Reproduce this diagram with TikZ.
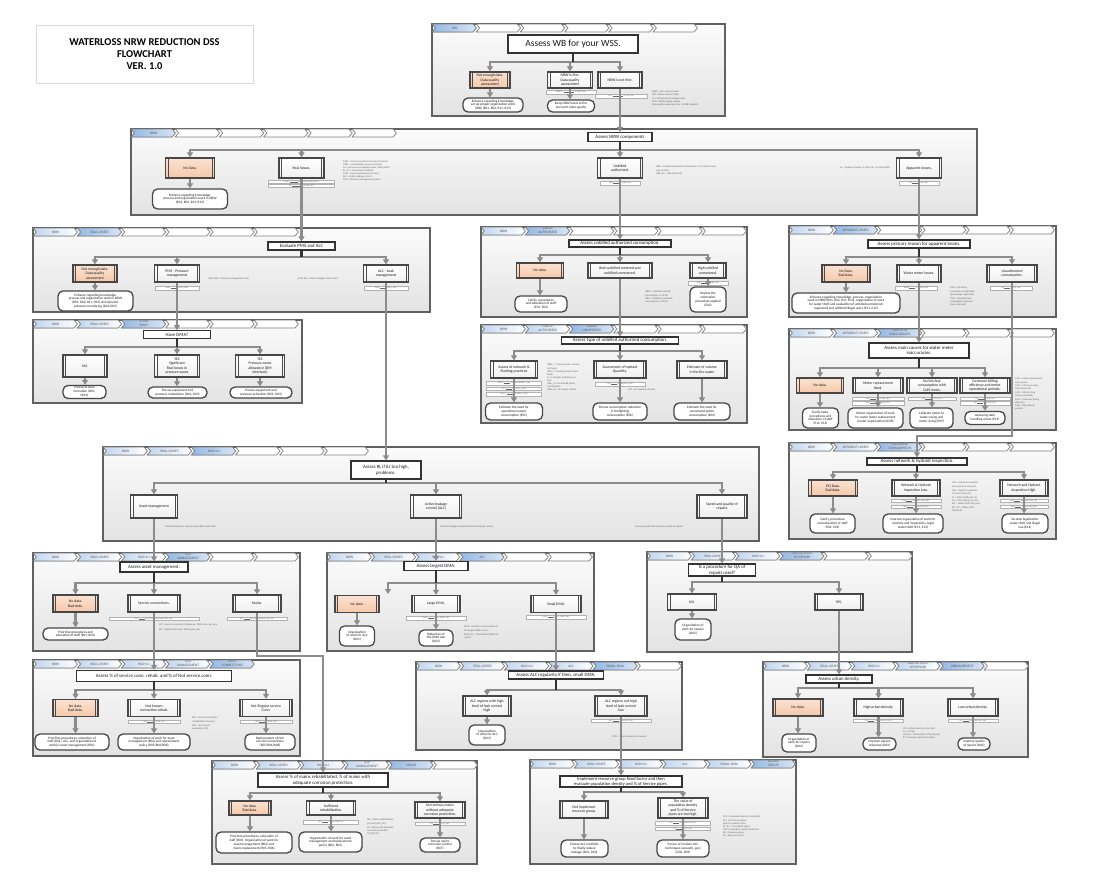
\documentclass[tikz,border=0pt]{standalone}
\usepackage{fontspec}
\setmainfont{Carlito}
\usetikzlibrary{arrows.meta}
\definecolor{crumbblue}{HTML}{8EB4E3}
\definecolor{peach}{HTML}{F4BE9A}
\definecolor{linegray}{HTML}{8C8C8C}
\newcommand{\fsz}[2]{\fontsize{#1}{#2}\selectfont}
\newcommand{\crumb}[5]{%
  \filldraw[#3] (#1,#2) -- ++(41,0) -- ++(3.4,4) -- ++(-3.4,4) -- ++(-41,0) -- ++(3.4,-4) -- cycle;
  \node[crumbtext] (#5) at (#1+22.5,#2+4) {#4};}
\newcommand{\crumbrow}[4]{\foreach \k/\lab/\st in {#4} {\crumb{#2+44.2*\k}{#3}{\st}{\lab}{#1\k}}}
\tikzset{
  panel/.style={draw=black!62, line width=1.3pt, top color=gray!3, bottom color=gray!22},
  crumboff/.style={draw=black!50, line width=0.7pt, fill=white},
  crumbon/.style={draw=black!50, line width=0.7pt, left color=crumbblue!55, right color=white},
  crumbcur/.style={draw=black!50, line width=0.7pt, left color=crumbblue!95, right color=crumbblue!35},
  crumbtext/.style={font=\fsz{3.5}{3.8}, text=black!65, align=center, inner sep=0pt},
  bars/.style={path picture={\draw[black!70, line width=0.8pt]
      ([xshift=2.6pt]path picture bounding box.north west) -- ([xshift=2.6pt]path picture bounding box.south west)
      ([xshift=-2.6pt]path picture bounding box.north east) -- ([xshift=-2.6pt]path picture bounding box.south east);}},
  proc/.style 2 args={bars, draw=black!72, line width=1.3pt, top color=white, bottom color=gray!12, align=center,
      font=\fsz{3.8}{4.4}, text=black!90, inner sep=0.5pt, minimum width=#1, minimum height=#2},
  nodata/.style={top color=peach!45, bottom color=peach!85},
  term/.style 2 args={draw=black!72, line width=1.3pt, fill=white, rounded corners=5pt, align=center,
      font=\fsz{3.4}{3.9}, text=black!90, inner sep=0.5pt, minimum width=#1, minimum height=#2},
  head/.style 2 args={draw=black!80, line width=1.2pt, fill=white, align=center, font=\fsz{4.8}{5.5},
      text=black!90, inner sep=0.5pt, minimum width=#1, minimum height=#2},
  field/.style={draw=black!30, line width=0.3pt, fill=white, font=\fsz{2.2}{2.5}, text=black!60,
      inner sep=0.5pt, minimum width=#1, minimum height=3.6},
  note/.style={anchor=north west, align=left, font=\fsz{2.5}{3.1}, text=black!62, inner sep=0pt},
  flow/.style={draw=linegray, line width=2.2pt, -{Triangle[length=5pt,width=6pt]}},
  trunk/.style={draw=black!80, line width=2.2pt},
}
\begin{document}
\begin{tikzpicture}[x=1pt,y=-1pt]
\fill[white] (0,0) rectangle (1099,886);
\useasboundingbox (0,0) rectangle (1099,886);

\node[draw=black!15, line width=0.6pt, fill=white, minimum width=217, minimum height=58, align=center,
  font=\bfseries\fsz{10.5}{12}] (title) at (144.5,54) {WATERLOSS NRW REDUCTION DSS\\FLOWCHART\\VER. 1.0};

\foreach \xa/\ya/\xb/\yb in {432/24/725/116, 131/129/977/215, 33/228/430/312, 33/320/302/403,
  481/227/747/317, 481/325/747/423, 789/226/1056/317, 789/329/1056/430, 789/443/1056/539,
  103/447/759/541, 33/553/300/651, 327/553/594/651, 647/552/912/652, 33/660/300/756,
  416/662/682/750, 763/662/1028/757, 212/761/477/864, 530/760/796/864}
  \draw[panel] (\xa,\ya) rectangle (\xb,\yb);

\crumbrow{cWB}{432}{24}{0/WB/crumbcur,1/{}/crumboff,2/{}/crumboff,3/{}/crumboff,4/{}/crumboff,5/{}/crumboff}
\crumbrow{cNRW}{131}{129}{0/NRW/crumbcur,1/{}/crumboff,2/{}/crumboff,3/{}/crumboff,4/{}/crumboff,5/{}/crumboff}
\crumbrow{cRLa}{33}{228}{0/NRW/crumbon,1/{REAL LOSSES}/crumbcur,2/{}/crumboff,3/{}/crumboff,4/{}/crumboff,5/{}/crumboff}
\crumbrow{cRLb}{33}{320}{0/NRW/crumbon,1/{REAL LOSSES}/crumbon,2/{\fsz{2.5}{2.8}IS THERE\\DMA?}/crumbcur,3/{}/crumboff,4/{}/crumboff,5/{}/crumboff}
\crumbrow{cUBa}{481}{227}{0/NRW/crumbon,1/{\fsz{2.5}{2.8}UNBILLED\\AUTHORIZED}/crumbcur,2/{}/crumboff,3/{}/crumboff,4/{}/crumboff,5/{}/crumboff}
\crumbrow{cUBb}{481}{325}{0/NRW/crumbon,1/{\fsz{2.5}{2.8}UNBILLED\\AUTHORIZED}/crumbon,2/{\fsz{2.5}{2.8}UNBILLED\\UNMETERED}/crumbcur,3/{}/crumboff,4/{}/crumboff,5/{}/crumboff}
\crumbrow{cALa}{789}{226}{0/NRW/crumbon,1/{APPARENT LOSSES}/crumbcur,2/{}/crumboff,3/{}/crumboff,4/{}/crumboff,5/{}/crumboff}
\crumbrow{cALb}{789}{329}{0/NRW/crumbon,1/{APPARENT LOSSES}/crumbon,2/{\fsz{2.5}{2.8}WATER METER\\INACCURACIES}/crumbcur,3/{}/crumboff,4/{}/crumboff,5/{}/crumboff}
\crumbrow{cALc}{789}{443}{0/NRW/crumbon,1/{APPARENT LOSSES}/crumbon,2/{\fsz{2.5}{2.8}UNAUTHORIZED\\CONSUMPTION}/crumbcur,3/{}/crumboff,4/{}/crumboff,5/{}/crumboff}
\crumbrow{cHI}{103}{447}{0/NRW/crumbon,1/{REAL LOSSES}/crumbon,2/{HIGH ILI}/crumbcur,3/{}/crumboff,4/{}/crumboff,5/{}/crumboff}
\crumbrow{cAMa}{33}{553}{0/NRW/crumbon,1/{REAL LOSSES}/crumbon,2/{HIGH ILI}/crumbon,3/{\fsz{2.5}{2.8}ASSET\\MANAGEMENT}/crumbcur,4/{}/crumboff,5/{}/crumboff}
\crumbrow{cALC}{327}{553}{0/NRW/crumbon,1/{REAL LOSSES}/crumbon,2/{HIGH ILI}/crumbon,3/ALC/crumbcur,4/{}/crumboff,5/{}/crumboff}
\crumbrow{cREP}{647}{552}{0/NRW/crumbon,1/{REAL LOSSES}/crumbon,2/{HIGH ILI}/crumbon,3/{\fsz{2.5}{2.8}SPEED AND QUALITY\\OF REPAIRS}/crumbcur,4/{}/crumboff,5/{}/crumboff}
\crumbrow{cAMb}{33}{660}{0/NRW/crumbon,1/{REAL LOSSES}/crumbon,2/{HIGH ILI}/crumbon,3/{\fsz{2.5}{2.8}ASSET\\MANAGEMENT}/crumbon,4/{\fsz{2.5}{2.8}SERVICE\\CONNECTIONS}/crumbcur}
\crumbrow{cSD}{416}{662}{0/NRW/crumbon,1/{REAL LOSSES}/crumbon,2/{HIGH ILI}/crumbon,3/ALC/crumbon,4/{SMALL DMA}/crumbcur,5/{}/crumboff}
\crumbrow{cUR}{763}{662}{0/NRW/crumbon,1/{REAL LOSSES}/crumbon,2/{HIGH ILI}/crumbon,3/{\fsz{2.5}{2.8}SPEED AND QUALITY\\OF REPAIRS}/crumbon,4/{URBAN DENSITY}/crumbcur,5/{}/crumboff}
\crumbrow{cMA}{212}{761}{0/NRW/crumbon,1/{REAL LOSSES}/crumbon,2/{HIGH ILI}/crumbon,3/{\fsz{2.5}{2.8}ASSET\\MANAGEMENT}/crumbon,4/MAINS/crumbcur,5/{}/crumboff}
\crumbrow{cIM}{530}{760}{0/NRW/crumbon,1/{REAL LOSSES}/crumbon,2/{HIGH ILI}/crumbon,3/ALC/crumbon,4/{SMALL DMA}/crumbon,5/{\fsz{2.5}{2.8}RESOURCE\\GROUP}/crumbcur}

% water balance
\node[head={130}{18}, font=\fsz{9.5}{11}] (hWB) at (573,44) {Assess WB for your WSS.};
\node[proc={40}{16}, nodata] (wb1) at (490,80) {Not enough data.\\Data quality\\assessment};
\node[proc={45}{16}] (wb2) at (570,80) {NRW is fine.\\Data quality\\assessment};
\node[proc={44}{16}] (wb3) at (620,80) {NRW is not fine.};
\node[field=50] (fwb2) at (571,92) {NRW\% = \rule{10pt}{0.2pt}\,\% (NRW\_thr)};
\node[field=52] (fwb3) at (621,96) {ILI = \rule{10pt}{0.2pt}\, ILI > ILI\_thr};
\node[term={60}{14}] (twb1) at (493,105) {Enhance regarding knowledge,\\set up proper organization work\\(WB) (R01, R02, R11, R13)};
\node[term={47}{12}] (twb2) at (571,106) {Keep NRW levels at the\\low level, Data quality};
\node[note] (nwb) at (652,91) {NRW = Non-revenue water\\WB = Water balance (IWA)\\ILI = Infrastructure leakage index\\WSS = Water supply system\\Data quality assessment acc. to WB standard};

% NRW components
\node[head={64}{9}] (hNRW) at (620,137) {Assess NRW components};
\node[proc={49}{20}, nodata] (nrw1) at (190,168) {No Data.};
\node[proc={45}{20}] (nrw2) at (301.5,168) {Real losses.};
\node[proc={45}{20}] (nrw3) at (620,168) {Unbilled\\authorized.};
\node[proc={45}{20}] (nrw4) at (919,168) {Apparent losses.};
\node[field=66] (fnrw2a) at (301.5,181.5) {CARL \rule{8pt}{0.2pt} (threshold m3/conn/d)};
\node[field=66] (fnrw2b) at (301.5,185.5) {ILI \rule{8pt}{0.2pt} ILI\_thr (RL\_thr)};
\node[field=40] (fnrw3) at (620,183) {UBA \rule{6pt}{0.2pt} \% (UBA\_thr)};
\node[field=40] (fnrw4) at (919,183) {AL \rule{6pt}{0.2pt} \% (AL\_thr)};
\node[term={75}{20}] (tnrw1) at (190,199) {Enhance regarding knowledge,\\process and organization work in NRW\\(R01, R02, R11, R13)};
\node[note] (nnrw2) at (343,160) {CARL = Current annual real losses (m3/year)\\UARL = Unavoidable annual real losses\\ILI = Infrastructure leakage index (CARL/UARL)\\RL\_thr = Real losses threshold\\CoPL = Level of performance (class)\\ALC = Active leakage control\\PMS = Pressure management system};
\node[note] (nnrw3) at (656,166) {UBA = Unbilled authorized consumption, \% of system input\\volume (SIV)\\UBA\_thr = UBA threshold};
\node[note, anchor=north east] (nnrw4) at (890,166) {AL = Apparent losses, \% of SIV (AL\_thr threshold)};

% real losses
\node[head={67}{8}] (hRLa) at (301.5,246) {Evaluate PMS and ALC};
\node[proc={44}{17}, nodata] (rl1a) at (95,273.5) {Not enough data.\\Data quality\\assessment};
\node[proc={45}{17}] (rl1b) at (177,273.5) {PMS - Pressure\\management};
\node[proc={45}{17}] (rl1c) at (386,273.5) {ALC - Leak\\management};
\node[field=44] (frl1b) at (177,288) {CoPL \rule{6pt}{0.2pt} (CoPL\_PMS)};
\node[field=44] (frl1c) at (386,288) {CoPL \rule{6pt}{0.2pt} (CoPL\_ALC)};
\node[term={75}{20}] (trl1a) at (95.5,301) {Enhance regarding knowledge,\\process and organization work in NRW\\(R01, R02, R11, R13) and dynamic\\pressure monitoring (D01-D03)};
\node[note] (nrl1b) at (208,278) {CoPL PMS = Pressure management class};
\node[note] (nrl1c) at (298,278) {CoPL ALC = Active leakage control class};

\node[head={67}{7.5}] (hRLb) at (177,334.5) {Have DMA?};
\node[proc={44}{22}] (rl2a) at (85,366) {NO.};
\node[proc={45}{22}] (rl2b) at (177,366) {YES\\Significant\\Real losses in\\pressure zones};
\node[proc={49}{22}] (rl2c) at (260,366) {YES\\Pressure zones\\allowance (DM\\interface)};
\node[term={43}{13}] (trl2a) at (84.5,392) {Pursue to zone\\formation (D01,\\DM1)};
\node[term={59}{11}] (trl2b) at (177.5,392.5) {Pursue equipment and\\pressure modulation (D01, D03)};
\node[term={62}{11}] (trl2c) at (261,392.5) {Pursue equipment and\\pressure activation (D01, D03)};

% unbilled authorized
\node[head={102}{7}] (hUBa) at (620,243.5) {Assess unbilled authorized consumption.};
\node[proc={47}{15}, nodata] (ub1a) at (540,270.5) {No data.};
\node[proc={64}{15}] (ub1b) at (620,270.5) {Both unbilled metered and\\unbilled unmetered.};
\node[proc={36}{15}] (ub1c) at (708,270.5) {High unbilled\\unmetered.};
\node[field=40] (fub1c) at (708,283) {UBU \rule{6pt}{0.2pt} \% (UBU\_thr)};
\node[term={52}{16}] (tub1a) at (541,304) {Clarify, procedures\\and education of staff\\(E01, E03)};
\node[term={36}{25}] (tub1c) at (708,299.5) {Review the\\estimation\\procedure applied\\(E02)};
\node[note] (nub1) at (645,291) {UBM = Unbilled metered\\consumption, \% of SIV\\UBU = Unbilled unmetered\\consumption, \% of SIV};

\node[head={117}{7}] (hUBb) at (620,340.5) {Assess type of unbilled authorized consumption.};
\node[proc={47}{17}] (ub2a) at (514,369.5) {Assess of network \&\\flushing practices};
\node[proc={52}{17}] (ub2b) at (620,369.5) {Assessment of hydrant\\Quantity.};
\node[proc={50}{17}] (ub2c) at (702,369.5) {Estimate of volume\\in the fire water};
\node[field=55] (fub2a) at (514,383) {UBM\_f \rule{6pt}{0.2pt} m3/year (UBM\_f\_thr)};
\node[field=55] (fub2b) at (514,388.5) {N\_f \rule{6pt}{0.2pt} /year (N\_f\_thr)};
\node[field=55] (fub2c) at (514,394) {UBU\_f \rule{6pt}{0.2pt} m3 (UBU\_f\_thr)};
\node[field=50] (fub2d) at (620,384) {Fs/f \rule{6pt}{0.2pt} Hyd/km (Fs\_thr)};
\node[term={57}{17}] (tub2a) at (514,411.5) {Estimate the need for\\operational water\\consumption (E05)};
\node[term={54}{17}] (tub2b) at (620,411.5) {Pursue consumption reduction\\in firefighting\\consumption (E06)};
\node[term={56}{17}] (tub2c) at (702,411.5) {Estimate the need for\\unmetered public\\consumption (E04)};
\node[note] (nub2a) at (547,364) {UBM\_f = Flushing water volume\\(m3/year)\\UBU\_f = Flushing water (mains\\flush)\\N\_f = Number of flushes per\\year\\UBU\_p = Unmetered public\\consumption\\UBU\_fw = Fire water volume};
\node[note] (nub2b) at (628,389) {Fs/f = fire hydrants density};

% apparent losses
\node[head={102}{8}] (hALa) at (919,244) {Assess primary reason for apparent losses.};
\node[proc={48}{17}, nodata] (al1a) at (846,273.5) {No Data.\\Bad data.};
\node[proc={44}{17}] (al1b) at (919,273.5) {Water meter losses.};
\node[proc={50}{17}] (al1c) at (1012,273.5) {Unauthorized\\consumption.};
\node[field=42] (fal1b) at (916,288) {WMA \rule{6pt}{0.2pt} \% (WMA\_thr)};
\node[field=42] (fal1c) at (1011,288) {UC \rule{6pt}{0.2pt} \% (UC\_thr)};
\node[term={108}{20}] (tal1a) at (846,303) {Enhance regarding knowledge, process, organization\\work in NRW (R01, R02, R11, R13), organization of work\\for water theft and evaluation of unbilled/unmetered\\registered and unfitted/illegal users (E11, E12)};
\node[note] (nal1) at (950,287) {CoPL = Metering\\connection classification\\(percentage registered)\\[1pt]CoPL = Unauthorized\\consumption (percent\\from reference)};

\node[head={100}{15}] (hALb) at (919,350.5) {Assess main causes for water meter\\inaccuracies.};
\node[proc={47}{15}, nodata] (al2a) at (820,385.5) {No data.};
\node[proc={50}{15}] (al2b) at (878,385.5) {Meter replacement\\fixed.};
\node[proc={50}{15}] (al2c) at (932,385.5) {No/Unclear\\consumption with\\CoPL limits.};
\node[proc={50}{15}] (al2d) at (985,385.5) {Customer billing\\efficiency and meter\\operational periods.};
\node[field=52] (fal2b) at (878,398.5) {MR \rule{6pt}{0.2pt} years (MR\_thr)};
\node[field=52] (fal2c) at (878,403) {MA \rule{6pt}{0.2pt} class (MA\_thr)};
\node[field=48] (fal2d) at (932,398.5) {MS \rule{6pt}{0.2pt} \% (MS\_thr)};
\node[field=50] (fal2e) at (985,398.5) {CB \rule{6pt}{0.2pt} \% (CB\_thr)};
\node[field=50] (fal2f) at (985,403) {OP \rule{6pt}{0.2pt} days (OP\_thr)};
\node[term={36}{20}] (tal2a) at (820.5,418) {Clarify tasks,\\procedures and\\education of staff\\(E11, E13)};
\node[term={55}{20}] (tal2b) at (875.5,418) {Detect organization of work\\for water meter replacement\\(meter organization) (E08)};
\node[term={43}{20}] (tal2c) at (931.5,418) {Calibrate meter to\\water-saving and\\meter sizing (E09)};
\node[term={40}{13}] (tal2d) at (985,418) {Assessing data\\handling errors (E15)};
\node[note] (nal2) at (1015,378) {CoPL = Meter replacement\\cycle (years)\\CoPL = Meter accuracy\\class (Qmin/Qt)\\[1pt]CoPL = Meter sizing\\(meter oversized)\\[1pt]CoPL = Customer billing\\efficiency\\CoPL = Operational\\periods};

\node[head={100}{7}] (hALc) at (917,461.5) {Assess network \& hydrant inspection.};
\node[proc={49}{16}, nodata] (al3a) at (833,488) {PCI Data.\\Bad data.};
\node[proc={48}{16}] (al3b) at (916,488) {Network \& Hydrant\\inspection Low.};
\node[proc={48}{16}] (al3c) at (1024,488) {Network and Hydrant\\inspection High.};
\node[field=50] (fal3b) at (916,500.5) {NHI \rule{6pt}{0.2pt} km/year (NHI\_thr)};
\node[field=50] (fal3c) at (916,506.5) {HHI \rule{6pt}{0.2pt} \%/year (HHI\_thr)};
\node[field=48] (fal3d) at (1024,500.5) {NHI \rule{6pt}{0.2pt} km/year (NHI\_thr)};
\node[field=48] (fal3e) at (1024,506.5) {HHI \rule{6pt}{0.2pt} \%/year (HHI\_thr)};
\node[term={45}{19}] (tal3a) at (832.5,523.5) {Clarify, procedure\\and education of staff\\(E01, E03)};
\node[term={60}{19}] (tal3b) at (913,523.5) {Improve organization of work for\\controls and inspections, legal\\water theft (E11, E13)};
\node[term={46}{19}] (tal3c) at (1025,523.5) {Do stop legalization\\water theft and illegal\\use (E14)};
\node[note] (nal3) at (952,482) {NHI = Network inspection\\(km/year/km) (NHI\_thr)\\[1pt]HHI = Hydrant inspection\\(\%/year) (HHI\_thr)\\[1pt]Fs = Water thefts per km\\FH = Fire hydrants per km\\WT = Water theft (m3/year)\\[1pt]WT\_thr = Water theft\\threshold};

% high ILI
\node[head={70}{18}] (hHI) at (386,470) {Assess RL if ILI too high,\\problems.};
\node[proc={47}{23}] (h1a) at (154,506.5) {Asset management};
\node[proc={51}{23}] (h1b) at (436,506.5) {Active leakage\\control (ALC)};
\node[proc={50}{23}] (h1c) at (722,506.5) {Speed and quality of\\repairs};
\node[note] (nh1a) at (165,526) {Too few failures on service connections and mains};
\node[note] (nh1b) at (440,526) {Too few leakages located with active leakage control};
\node[note] (nh1c) at (635,526) {Too long repair time and poor quality of repairs};

% asset management
\node[head={68}{10}] (hAMa) at (154,567) {Assess asset management.};
\node[proc={45}{17}, nodata] (a1a) at (75.5,603.5) {No data.\\Bad data.};
\node[proc={52}{17}] (a1b) at (154,603.5) {Service connections.};
\node[proc={48}{17}] (a1c) at (257,603.5) {Mains.};
\node[field=90] (fa1b) at (154,618.5) {SCF \rule{6pt}{0.2pt} No./1000 conn./year (SCF\_thr)};
\node[field=60] (fa1c) at (257,618.5) {MF \rule{6pt}{0.2pt} No./100 km/year (MF\_thr)};
\node[term={65}{12}] (ta1a) at (75.5,634) {Prioritize procedures and\\education of staff (R01, R04)};
\node[note] (na1) at (159,624) {SCF = Service connection failures per 1000 conn. per year\\[1.5pt]MF = Mains failures per 100 km per year};

\node[head={155}{11}] (hAMb) at (154,676) {Assess \% of service conn. rehab. and \% of Not service conn.};
\node[proc={45}{17}, nodata] (a2a) at (75.5,708) {No data.\\Bad data.};
\node[proc={52}{17}] (a2b) at (154,708) {Not known\\connection rehab.};
\node[proc={52}{17}] (a2c) at (266,708) {Not Regular service\\Conn.};
\node[field=52] (fa2b) at (154,721.5) {SCR \rule{6pt}{0.2pt} \% (SCR\_thr)};
\node[field=52] (fa2c) at (266,721.5) {NSC \rule{6pt}{0.2pt} \% (NSC\_thr)};
\node[term={74}{16}] (ta2a) at (72,742) {Prioritize procedures, education of\\staff (R01), ALC, and organization of\\work(s) asset management (R04)};
\node[term={72}{16}] (ta2b) at (154,742) {Organization of work for asset\\management (R04) and replacement\\policy (R05/R06/R08)};
\node[term={50}{16}] (ta2c) at (270,742) {Replacement of Not\\service Connections\\(R05/R06/R08)};
\node[note] (na2) at (192,717) {SCR = Service connection\\rehabilitation (\%/year)\\[1pt]NSC = Not service\\connections (\%)};

% active leakage control
\node[head={64}{9}] (hALC) at (436,566) {Assess largest DMA.};
\node[proc={44}{17}, nodata] (alca) at (357,604) {No data.};
\node[proc={48}{17}] (alcb) at (436,604) {Large DMA.};
\node[proc={50}{17}] (alcc) at (556,604) {Small DMA.};
\coordinate (eALC) at (388,594);
\node[field=60] (falcb) at (436,618) {DMA \rule{6pt}{0.2pt} conn. (DMA\_thr)};
\node[field=60] (falcc) at (556,617) {DMA \rule{6pt}{0.2pt} conn. (DMA\_thr)};
\node[term={35}{20}] (talca) at (357,636) {Organization\\of work for ALC\\(D01)};
\node[term={34}{16}] (talcb) at (436,638) {Reduction of\\the DMA size\\(D02)};
\node[note] (nalc) at (464,626) {DMA = Number of connections in\\the largest DMA (conn.)\\[1pt]DMA\_thr = Threshold of DMA size\\(conn.)};

% repairs
\node[head={67}{12}] (hREP) at (722,570) {Is a procedure for QA of\\repairs used?};
\node[proc={49}{16}] (repa) at (692,602) {NO.};
\node[proc={48}{16}] (repb) at (839,602) {YES.};
\node[term={36}{21}] (trepa) at (693,629.5) {Organization of\\work for repairs\\(D02)};

% small DMA
\node[head={95}{8}] (hSD) at (556,675) {Assess ALC regularity if then, small DMA.};
\node[proc={48}{20}] (sdma) at (487,706) {ALC regions with high\\level of leak control\\high};
\node[proc={52}{20}] (sdmb) at (621,706) {ALC regions not high\\level of leak control\\low};
\node[field=60] (fsdmb) at (621,720.5) {ALC \rule{6pt}{0.2pt} /year (ALC\_thr)};
\node[term={36}{20}] (tsdma) at (487,735) {Organization\\of work for ALC\\(D03)};
\node[note] (nsdm) at (612,736) {CoPL = Time between ALC surveys};

% urban density
\node[head={66}{8}] (hUR) at (839,679) {Assess urban density.};
\node[proc={50}{17}, nodata] (urba) at (798,707.5) {No data.};
\node[proc={49}{17}] (urbb) at (878.5,707.5) {High urban density.};
\node[proc={50}{17}] (urbc) at (973,707.5) {Low urban density.};
\node[field=50] (furbb) at (878.5,720.5) {UD \rule{6pt}{0.2pt} conn./km (UD\_thr)};
\node[field=50] (furbc) at (973,720.5) {UD \rule{6pt}{0.2pt} conn./km (UD\_thr)};
\node[term={34}{18}] (turba) at (799,743) {Organization of\\work for repairs\\(D02)};
\node[term={33}{12}] (turbb) at (879.5,744) {Improve repairs\\response (D03)};
\node[term={32}{12}] (turbc) at (974,744) {Improve quality\\of repairs (D04)};
\node[note] (nurb) at (903,727) {UD = Urban density (conn./km)\\Fs = 0.5/km\\UD\_thr = Threshold of urban density\\RT = Average repair time (days)};

% mains
\node[head={130}{14}] (hMA) at (323,780) {Assess \% of mains rehabilitated, \% of mains with\\adequate corrosion protection.};
\node[proc={42}{14}, nodata] (maa) at (250,808) {No data.\\Bad data.};
\node[proc={49}{14}] (mab) at (331,808) {Sufficient\\rehabilitation.};
\node[proc={50}{16}] (mac) at (440,810) {Not serious mains\\without adequate\\corrosion protection.};
\node[field=55] (fmab) at (331,822) {MR \rule{6pt}{0.2pt} \%/year (MR\_thr)};
\node[field=50] (fmac) at (440,823.5) {CP \rule{6pt}{0.2pt} \% (CP\_thr)};
\node[term={76}{21}] (tmaa) at (254,842.5) {Prioritize procedures, education of\\staff (R01), Organization of work for\\asset management (R04) and\\mains replacement (R05, R06)};
\node[term={63}{20}] (tmab) at (330.5,842) {Organization of work for asset\\management and replacement\\policy (R04, R05)};
\node[term={40}{14}] (tmac) at (440,845) {Pursue mains\\corrosion control\\(R07)};
\node[note] (nma) at (367,819) {MR = Mains rehabilitation\\(\%/year) (MR\_thr)\\[1pt]CP = Mains with adequate\\corrosion protection\\(\%) (CP\_thr)};

% resource group
\node[head={122}{11}, font=\fsz{4.5}{5.2}] (hIM) at (621,781.5) {Implement resource group fixed factor and then\\evaluate population density and \% of Service pipes.};
\node[proc={48}{17}] (impa) at (584,809.5) {Not implement\\resource group.};
\node[proc={50}{20}] (impb) at (683,808) {The value of\\population density\\and \% of Service\\pipes are too high.};
\node[field=55] (fimpb) at (683,823) {PD \rule{6pt}{0.2pt} cap./km2 (PD\_thr)};
\node[field=55] (fimpc) at (683,828.5) {SP \rule{6pt}{0.2pt} \% (SP\_thr)};
\node[term={47}{17}] (timpa) at (584.5,848.5) {Pursue ALC methods\\to finally reduce\\leakage (D01, D03)};
\node[term={52}{17}] (timpb) at (683,848.5) {Pursue of modern ALC\\techniques (acoustic, gas)\\(D04, D05)};
\node[note] (nimp) at (723,815) {CPR = Population density (cap./km2)\\[1pt]SP = \% of Service pipes\\with \% of plastic pipes\\SP\_thr = \% of plastic pipes\\CPD = Population density threshold\\RG = Resource group\\RF = Resource factor};

% branches
\coordinate (jWB) at (573,62);
\coordinate (jNRW) at (620,150);
\coordinate (jRLa) at (301.5,257);
\coordinate (jRLb) at (177,347);
\coordinate (jUBa) at (620,255);
\coordinate (jUBb) at (620,351);
\coordinate (jALa) at (919,257);
\coordinate (jALb) at (919,368);
\coordinate (jALc) at (917,472);
\coordinate (jHI) at (386,483);
\coordinate (jAMa) at (154,583);
\coordinate (jAMb) at (154,690);
\coordinate (jALC) at (436,583);
\coordinate (jREP) at (722,582);
\coordinate (jSD) at (556,690);
\coordinate (jUR) at (839,688);
\coordinate (jMA) at (323,793);
\coordinate (jIM) at (621,792);
\foreach \h/\j/\bs in {hWB/jWB/{wb1,wb2,wb3}, hNRW/jNRW/{nrw1,nrw2,nrw3,nrw4}, hRLa/jRLa/{rl1a,rl1b,rl1c},
    hRLb/jRLb/{rl2a,rl2b,rl2c}, hUBa/jUBa/{ub1a,ub1b,ub1c}, hUBb/jUBb/{ub2a,ub2b,ub2c},
    hALa/jALa/{al1a,al1b,al1c}, hALb/jALb/{al2a,al2b,al2c,al2d}, hALc/jALc/{al3a,al3b,al3c},
    hHI/jHI/{h1a,h1b,h1c}, hAMa/jAMa/{a1a,a1b,a1c}, hAMb/jAMb/{a2a,a2b,a2c}, hALC/jALC/{eALC,alcb,alcc},
    hREP/jREP/{repa,repb}, hSD/jSD/{sdma,sdmb}, hUR/jUR/{urba,urbb,urbc}, hMA/jMA/{maa,mab,mac},
    hIM/jIM/{impa,impb}}{
  \foreach \b in \bs {\draw[flow] (\j) -| (\b);}
  \draw[trunk] (\h) -- (\j);
}
% box to end point
\foreach \b/\t in {wb1/twb1, wb2/twb2, nrw1/tnrw1, rl1a/trl1a, rl2a/trl2a, rl2b/trl2b, rl2c/trl2c,
    ub1a/tub1a, ub1c/tub1c, ub2a/tub2a, ub2b/tub2b, ub2c/tub2c, al1a/tal1a, al2a/tal2a, al2b/tal2b,
    al2c/tal2c, al2d/tal2d, al3a/tal3a, al3b/tal3b, al3c/tal3c, a1a/ta1a, a2a/ta2a, a2b/ta2b, a2c/ta2c,
    alca/talca, alcb/talcb, repa/trepa, sdma/tsdma, urba/turba, urbb/turbb, urbc/turbc, maa/tmaa,
    mab/tmab, mac/tmac, impa/timpa, impb/timpb}
  \draw[flow] (\b.south) -- (\b.south |- \t.north);
% panel to panel
\foreach \b/\h in {wb3/hNRW, nrw2/hRLa, nrw3/hUBa, nrw4/hALa, rl1b/hRLb, rl1c/hHI, ub1b/hUBb, al1b/hALb,
    h1a/hAMa, h1b/hALC, h1c/hREP, a1b/hAMb, alcc/hSD, sdmb/hIM, repb/hUR}
  \draw[flow] (\b.south) -- (\b.south |- \h.north);
\coordinate (kAL) at (1012,436);
\coordinate (kAM) at (257,656);
\draw[flow] (al1c.south) -- (al1c.south |- kAL) -| (hALc.north);
\draw[flow] (a1c.south) -- (a1c.south |- kAM) -| (hMA.north);
\end{tikzpicture}
\end{document}
